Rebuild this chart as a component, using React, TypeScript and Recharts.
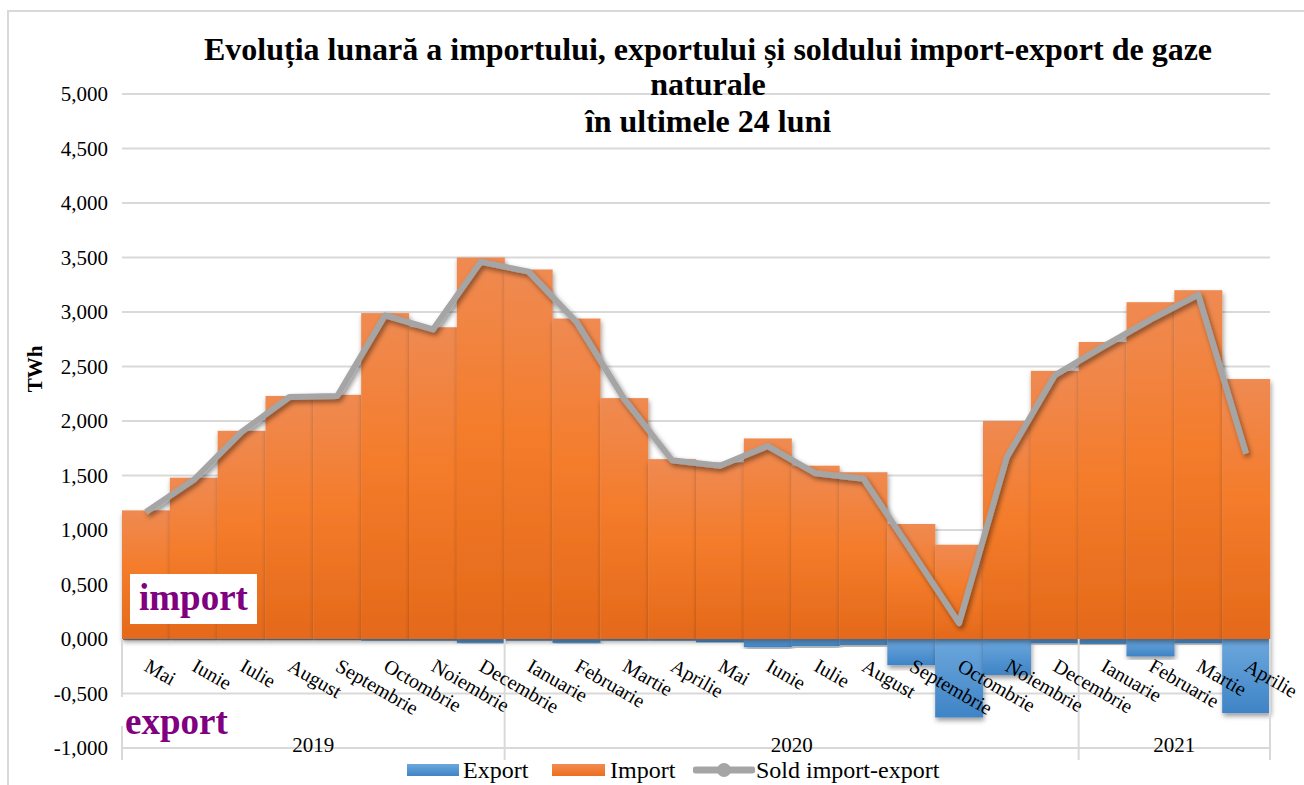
import React from 'react';
import {
  ComposedChart,
  Bar,
  Line,
  XAxis,
  YAxis,
  CartesianGrid,
  ReferenceLine,
  ReferenceArea,
  LabelList,
  Legend,
} from 'recharts';

const FONT = '"Liberation Serif", "Times New Roman", serif';

const months = [
  'Mai', 'Iunie', 'Iulie', 'August', 'Septembrie', 'Octombrie', 'Noiembrie', 'Decembrie',
  'Ianuarie', 'Februarie', 'Martie', 'Aprilie', 'Mai', 'Iunie', 'Iulie', 'August',
  'Septembrie', 'Octombrie', 'Noiembrie', 'Decembrie', 'Ianuarie', 'Februarie', 'Martie', 'Aprilie',
];
const years = [
  '2019', '2019', '2019', '2019', '2019', '2019', '2019', '2019',
  '2020', '2020', '2020', '2020', '2020', '2020', '2020', '2020',
  '2020', '2020', '2020', '2020', '2021', '2021', '2021', '2021',
];
const importValues = [
  1.18, 1.48, 1.91, 2.23, 2.24, 2.99, 2.86, 3.5,
  3.39, 2.94, 2.21, 1.65, 1.62, 1.84, 1.59, 1.53,
  1.055, 0.865, 2.0, 2.46, 2.725, 3.09, 3.2, 2.385,
];
const exportValues = [
  -0.01, -0.01, -0.01, -0.01, -0.01, -0.015, -0.015, -0.035,
  -0.015, -0.035, -0.015, -0.015, -0.03, -0.075, -0.065, -0.055,
  -0.24, -0.72, -0.33, -0.04, -0.045, -0.16, -0.04, -0.68,
];
const soldValues = [
  1.165, 1.46, 1.9, 2.22, 2.23, 2.97, 2.84, 3.46,
  3.37, 2.91, 2.2, 1.64, 1.59, 1.77, 1.52, 1.47,
  0.81, 0.145, 1.67, 2.42, 2.68, 2.93, 3.16, 1.7,
];
const yTicks = [-1, -0.5, 0, 0.5, 1, 1.5, 2, 2.5, 3, 3.5, 4, 4.5, 5];
const yearLabels = ['2019', '2020', '2021'];

const data = months.map((m, i) => ({
  key: `${m} ${years[i]}`,
  month: m,
  year: years[i],
  export: exportValues[i],
  import: importValues[i],
  sold: soldValues[i],
}));

const yearGroups = yearLabels.map((yr) => {
  const items = data.filter((d) => d.year === yr);
  return { label: yr, first: items[0].key, last: items[items.length - 1].key };
});

const fmt = (v: number) => v.toFixed(3).replace('.', ',');

const makeShape = (fill: string) => (p: any) => {
  const { x, y, width, height } = p;
  if (!width || !height) return <g />;
  const yy = height < 0 ? y + height : y;
  return (
    <rect
      x={x}
      y={yy}
      width={width}
      height={Math.abs(height)}
      fill={fill}
      filter="url(#barShadow)"
    />
  );
};

const MonthLabel = (props: any) => {
  const vb = props.viewBox && props.viewBox.width !== undefined ? props.viewBox : props;
  const { x, y, width, height } = vb;
  const idx = props.index;
  if (x === undefined || idx === undefined) return null;
  const cx = x + width / 2;
  const base = y + height;
  return (
    <text
      transform={`translate(${cx - 3},${base + 31}) rotate(30)`}
      textAnchor="start"
      fontSize={20}
      fontFamily={FONT}
      fill="#000"
    >
      {months[idx]}
    </text>
  );
};

const legendText: React.CSSProperties = {
  position: 'absolute',
  top: 4,
  lineHeight: '18px',
  whiteSpace: 'nowrap',
};

const LegendContent = () => (
  <div style={{ position: 'relative', width: 1304, height: 22, fontFamily: FONT, fontSize: 24, color: '#000' }}>
    <div style={{ position: 'absolute', left: 407, top: 6.5, width: 52, height: 12, background: 'linear-gradient(#6ca7dd, #3f84c6)' }} />
    <div style={{ ...legendText, left: 463 }}>Export</div>
    <div style={{ position: 'absolute', left: 552, top: 6.5, width: 53, height: 12, background: 'linear-gradient(#f28c52, #ec6f1d)' }} />
    <div style={{ ...legendText, left: 610 }}>Import</div>
    <svg style={{ position: 'absolute', left: 693, top: 4 }} width={62} height={18}>
      <line x1={3} y1={9} x2={59} y2={9} stroke="#a5a5a5" strokeWidth={7} strokeLinecap="round" />
      <circle cx={31} cy={9} r={7} fill="#a5a5a5" />
    </svg>
    <div style={{ ...legendText, left: 756 }}>Sold import-export</div>
  </div>
);

const titleStyle: React.CSSProperties = {
  position: 'absolute',
  left: 0,
  width: 1416,
  textAlign: 'center',
  fontFamily: FONT,
  fontWeight: 'bold',
  fontSize: 32,
  lineHeight: '32px',
  whiteSpace: 'nowrap',
};

export default function App() {
  return (
    <div style={{ position: 'absolute', left: 0, top: 0, width: 1304, height: 785, background: '#fff', overflow: 'hidden' }}>
      <div style={{ position: 'absolute', left: 7, top: 10, width: 1320, height: 820, border: '2px solid #d9d9d9', boxSizing: 'border-box' }} />
      <ComposedChart
        width={1304}
        height={785}
        data={data}
        margin={{ top: 94, right: 34, bottom: 37, left: 0 }}
        stackOffset="sign"
        barCategoryGap={0}
        barGap={0}
      >
        <defs>
          <linearGradient id="gOrange" x1="0" y1="0" x2="0" y2="1">
            <stop offset="0" stopColor="#ef8a52" />
            <stop offset="0.45" stopColor="#f47c2b" />
            <stop offset="1" stopColor="#e4691a" />
          </linearGradient>
          <linearGradient id="gBlue" x1="0" y1="0" x2="0" y2="1">
            <stop offset="0" stopColor="#6ca7dd" />
            <stop offset="1" stopColor="#3f84c6" />
          </linearGradient>
          <filter id="barShadow" x="-20%" y="-20%" width="140%" height="140%">
            <feDropShadow dx="1" dy="3" stdDeviation="2.5" floodColor="#000" floodOpacity="0.4" />
          </filter>
          <filter id="lineShadow" x="-10%" y="-10%" width="120%" height="120%">
            <feDropShadow dx="2" dy="3" stdDeviation="2.5" floodColor="#000" floodOpacity="0.45" />
          </filter>
        </defs>
        <CartesianGrid horizontal vertical={false} stroke="#d9d9d9" strokeWidth={2} />
        <XAxis dataKey="key" hide />
        <YAxis
          domain={[-1, 5]}
          ticks={yTicks}
          interval={0}
          tickFormatter={fmt}
          width={122}
          axisLine={false}
          tickLine={false}
          tickSize={6}
          tickMargin={8}
          tick={{ fontSize: 21, fill: '#000', fontFamily: FONT }}
          allowDataOverflow
          label={{
            content: (p: any) => {
              const vb = p.viewBox || { x: 0, y: 94, width: 122, height: 654 };
              return (
                <text
                  transform={`translate(${vb.x + 42},${vb.y + vb.height / 2 - 52}) rotate(-90)`}
                  textAnchor="middle"
                  fontSize={21}
                  fontWeight="bold"
                  fontFamily={FONT}
                  fill="#000"
                >
                  TWh
                </text>
              );
            },
          }}
        />
        <Bar dataKey="export" name="Export" stackId="s" fill="url(#gBlue)" shape={makeShape('url(#gBlue)')} isAnimationActive={false} />
        <Bar dataKey="import" name="Import" stackId="s" fill="url(#gOrange)" shape={makeShape('url(#gOrange)')} isAnimationActive={false}>
          <LabelList dataKey="import" content={MonthLabel} />
        </Bar>
        <Line
          dataKey="sold"
          name="Sold import-export"
          type="linear"
          stroke="#a5a5a5"
          strokeWidth={6}
          strokeLinejoin="round"
          dot={false}
          activeDot={false}
          filter="url(#lineShadow)"
          isAnimationActive={false}
        />
        <ReferenceLine
          segment={[{ x: data[0].key, y: 0 }, { x: data[0].key, y: -1.11 }]}
          position="start"
          stroke="#d9d9d9"
          strokeWidth={2}
          ifOverflow="visible"
        />
        {yearGroups.map((g) => (
          <ReferenceLine
            key={`sep-${g.label}`}
            segment={[{ x: g.last, y: 0 }, { x: g.last, y: -1.11 }]}
            position="end"
            stroke="#d9d9d9"
            strokeWidth={2}
            ifOverflow="visible"
          />
        ))}
        {yearGroups.map((g) => (
          <ReferenceArea
            key={`yr-${g.label}`}
            x1={g.first}
            x2={g.last}
            y1={-1.02}
            y2={-0.98}
            fill="none"
            fillOpacity={0}
            stroke="none"
            ifOverflow="visible"
            label={{ value: g.label, position: 'center', fontSize: 21, fill: '#000', fontFamily: FONT, dy: -3 }}
          />
        ))}
        <Legend
          layout="horizontal"
          verticalAlign="middle"
          align="center"
          wrapperStyle={{ top: 757, left: 0, width: 1304, height: 22 }}
          content={LegendContent}
        />
      </ComposedChart>

      <div style={{ ...titleStyle, top: 33 }}>
        Evoluția lunară a importului, exportului și soldului import-export de gaze
      </div>
      <div style={{ ...titleStyle, top: 68 }}>naturale</div>
      <div style={{ ...titleStyle, top: 105 }}>în ultimele 24 luni</div>

      <div style={{ position: 'absolute', left: 130, top: 574, width: 127, height: 50, background: '#fff' }} />
      <div style={{ position: 'absolute', left: 139, top: 578, fontFamily: FONT, fontWeight: 'bold', fontSize: 37, lineHeight: '40px', color: '#800080' }}>
        import
      </div>
      <div style={{ position: 'absolute', left: 118, top: 697, width: 114, height: 29, background: '#fff' }} />
      <div style={{ position: 'absolute', left: 125, top: 702, fontFamily: FONT, fontWeight: 'bold', fontSize: 37, lineHeight: '40px', color: '#800080' }}>
        export
      </div>
    </div>
  );
}
